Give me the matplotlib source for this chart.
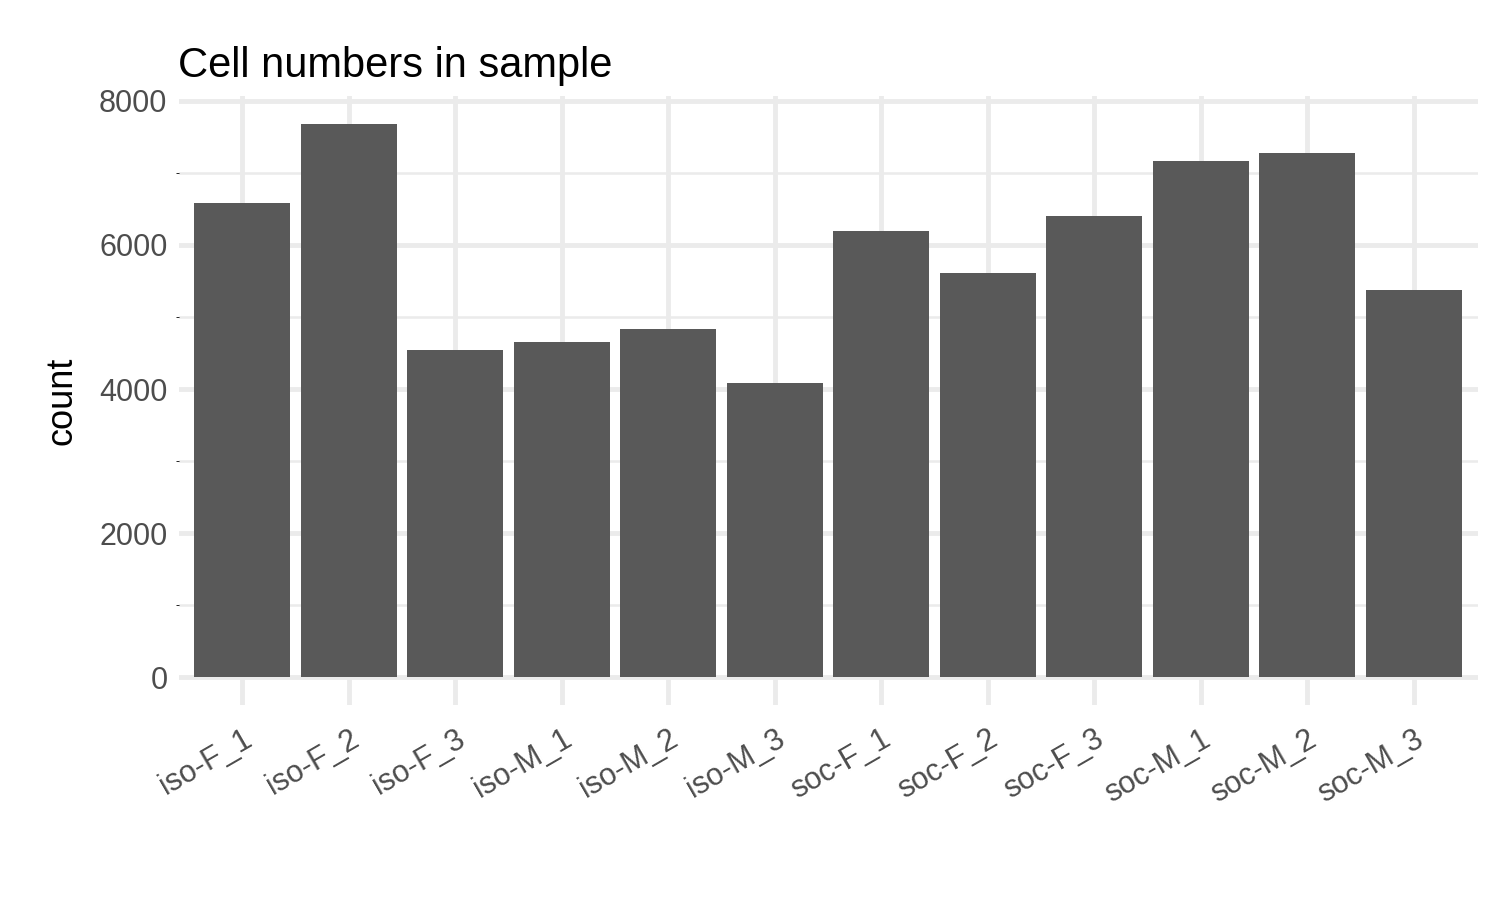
import matplotlib
matplotlib.use("Agg")
import matplotlib.pyplot as plt
import numpy as np

samples = ["iso-F_1","iso-F_2","iso-F_3","iso-M_1","iso-M_2","iso-M_3",
           "soc-F_1","soc-F_2","soc-F_3","soc-M_1","soc-M_2","soc-M_3"]
counts = [6583, 7681, 4542, 4653, 4833, 4083, 6194, 5611, 6403, 7167, 7278, 5375]

plt.rcParams['font.family'] = ['Liberation Sans', 'DejaVu Sans']
fig = plt.figure(figsize=(15, 9), dpi=100)
ax = fig.add_axes([0.119, 0.217, 0.866, 0.676])
x = np.arange(1, len(samples) + 1)
ax.bar(x, counts, width=0.9, color="#595959", zorder=2)
ax.set_xlim(0.4, 12.6)
top = max(counts) * 1.05
ax.set_ylim(-0.05 * max(counts), top)
ax.set_yticks([0, 2000, 4000, 6000, 8000])
ax.set_yticks([1000, 3000, 5000, 7000], minor=True)
ax.set_xticks(x)
ax.set_xticklabels(samples, rotation=30, ha="right", rotation_mode="anchor")
ax.grid(True, which="major", color="#EBEBEB", lw=3.5, zorder=0)
ax.grid(True, which="minor", axis="y", color="#EBEBEB", lw=1.8, zorder=0)
for s in ax.spines.values():
    s.set_visible(False)
ax.tick_params(length=0, labelsize=22, labelcolor="#4D4D4D", pad=8)
ax.tick_params(axis="x", pad=14)
ax.set_ylabel("count", fontsize=26, labelpad=14)
ax.set_title("Cell numbers in sample", fontsize=30, loc="left", pad=14)
fig.savefig("out.png")
